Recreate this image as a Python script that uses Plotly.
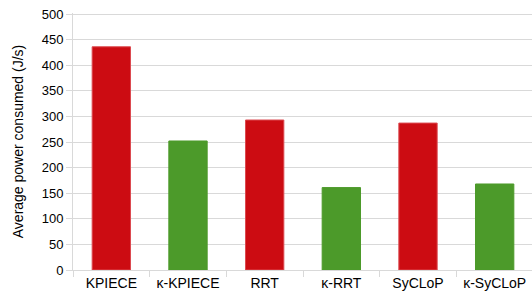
import plotly.graph_objects as go

categories = ["KPIECE", "κ-KPIECE", "RRT", "κ-RRT", "SyCLoP", "κ-SyCLoP"]
power = [436, 252, 293, 161, 287, 168]
bar_colors = ["#CC0C12", "#4C9A2A", "#CC0C12", "#4C9A2A", "#CC0C12", "#4C9A2A"]
edge_colors = ["#DC4A50", "#4C9A2A", "#DC4A50", "#4C9A2A", "#DC4A50", "#4C9A2A"]
y_ticks = [0, 50, 100, 150, 200, 250, 300, 350, 400, 450, 500]

fig = go.Figure(go.Bar(
    x=categories, y=power,
    marker=dict(color=bar_colors, line=dict(width=1, color=edge_colors)),
    width=0.5,
))

grid = "#D9D9D9"
fig.update_layout(
    width=533, height=300,
    margin=dict(l=73, r=0, t=13, b=30, autoexpand=False),
    paper_bgcolor="white", plot_bgcolor="white",
    font=dict(family="Liberation Sans, Arial, sans-serif", size=14, color="#000000"),
    showlegend=False,
)
fig.update_yaxes(
    range=[0, 502], tickvals=y_ticks,
    showgrid=True, gridcolor=grid, gridwidth=1,
    ticks="outside", ticklen=6, tickcolor=grid,
    showline=True, linecolor=grid, linewidth=1,
    zeroline=False, automargin=False,
    title=dict(text="Average power consumed (J/s)", font=dict(size=14), standoff=14),
    tickfont=dict(size=13),
)
fig.update_xaxes(
    tickson="boundaries", ticks="outside", ticklen=6, tickcolor=grid,
    showline=True, linecolor=grid, linewidth=1,
    showgrid=False, automargin=False,
    tickfont=dict(size=14),
)

fig.write_html(
    "out.html",
    config={"displayModeBar": False},
    post_script="document.body.style.margin='0';document.body.style.overflow='hidden';",
)
